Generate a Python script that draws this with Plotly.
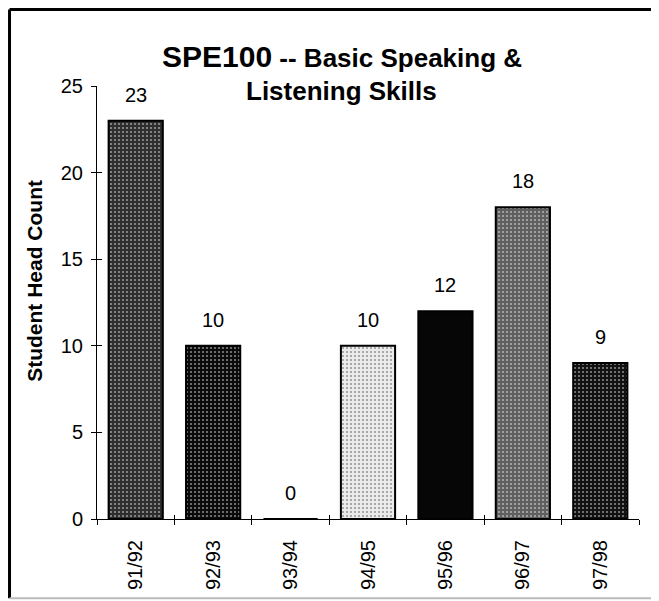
import plotly.graph_objects as go

categories = ["91/92", "92/93", "93/94", "94/95", "95/96", "96/97", "97/98"]
head_counts = [23, 10, 0, 10, 12, 18, 9]
bar_colors = ["#2e2e2e", "#0a0a0a", "#ffffff", "#ebebeb", "#060606", "#5f5f5f", "#111111"]
speckle_shapes = [".", ".", "", ".", "", ".", "."]
speckle_colors = ["#8e8e8e", "#353535", "#ffffff", "#6a6a6a", "#060606", "#c8c8c8", "#444444"]
y_ticks = [0, 5, 10, 15, 20, 25]

FONT = "Liberation Sans, Arial, Helvetica, sans-serif"

fig = go.Figure()
fig.add_trace(go.Bar(
    x=categories, y=head_counts,
    marker=dict(color=bar_colors, line=dict(color="#000000", width=2),
                pattern=dict(shape=speckle_shapes, fgcolor=speckle_colors,
                             bgcolor=bar_colors, size=4, solidity=0.22)),
    showlegend=False, hoverinfo="x+y",
))
# invisible trace carrying the overlay axes (inner half of the cross ticks)
fig.add_trace(go.Scatter(x=[], y=[], xaxis="x2", yaxis="y2", showlegend=False, hoverinfo="skip"))

for c, v in zip(categories, head_counts):
    fig.add_annotation(x=c, y=v, text=str(v), showarrow=False,
                       yanchor="middle", yshift=26,
                       font=dict(family=FONT, size=20, color="#000"))

# Title (two lines)
fig.add_annotation(xref="paper", yref="paper", x=0.452, y=1.067,
                   text="<b><span style='font-size:30px'>SPE100</span> -- Basic Speaking &amp;</b>",
                   showarrow=False, xanchor="center", yanchor="middle",
                   font=dict(family=FONT, size=26, color="#000"))
fig.add_annotation(xref="paper", yref="paper", x=0.452, y=0.988,
                   text="<b>Listening Skills</b>",
                   showarrow=False, xanchor="center", yanchor="middle",
                   font=dict(family=FONT, size=26, color="#000"))

# Y axis title
fig.add_annotation(xref="paper", yref="paper", x=-0.1144, y=0.55,
                   text="<b>Student Head Count</b>", textangle=-90,
                   showarrow=False, xanchor="center", yanchor="middle",
                   font=dict(family=FONT, size=21, color="#000"))

# Outer frame lines
fig.add_shape(type="line", xref="paper", yref="paper", x0=-0.1614, x1=1.04, y0=1.1767, y1=1.1767,
              line=dict(color="#000", width=3))
fig.add_shape(type="line", xref="paper", yref="paper", x0=-0.1614, x1=-0.1614, y0=-0.183, y1=1.1767,
              line=dict(color="#000", width=3))
fig.add_shape(type="line", xref="paper", yref="paper", x0=-0.1614, x1=1.04, y0=-0.183, y1=-0.183,
              line=dict(color="#bbbbbb", width=2))

fig.update_layout(
    width=651, height=593,
    margin=dict(l=89, r=20, t=78, b=82),
    paper_bgcolor="#ffffff", plot_bgcolor="#ffffff",
    bargap=0.3,
    font=dict(family=FONT, size=20, color="#000"),
    xaxis=dict(
        type="category", showline=True, linecolor="#000", linewidth=1,
        ticks="outside", ticklen=5, tickcolor="#000", tickson="boundaries",
        tickangle=-90, showgrid=False, zeroline=False, ticklabelstandoff=12,
        range=[-0.5, 6.5],
        tickfont=dict(family=FONT, size=20, color="#000"),
    ),
    yaxis=dict(
        range=[0, 25], tickvals=y_ticks, showline=True, linecolor="#000", linewidth=1,
        ticks="outside", ticklen=5, tickcolor="#000", showgrid=False, zeroline=False,
        ticklabelstandoff=4,
        tickfont=dict(family=FONT, size=20, color="#000"),
    ),
    xaxis2=dict(
        overlaying="x", side="bottom", range=[-0.5, 6.5],
        tickvals=[-0.5, 0.5, 1.5, 2.5, 3.5, 4.5, 5.5, 6.5],
        ticks="inside", ticklen=4, tickcolor="#000", showticklabels=False,
        showline=False, showgrid=False, zeroline=False,
    ),
    yaxis2=dict(
        overlaying="y", side="left", range=[0, 25], tickvals=y_ticks,
        ticks="inside", ticklen=5, tickcolor="#000", showticklabels=False,
        showline=False, showgrid=False, zeroline=False,
    ),
)

fig.write_html("out.html", post_script="document.body.style.overflow='hidden';")
